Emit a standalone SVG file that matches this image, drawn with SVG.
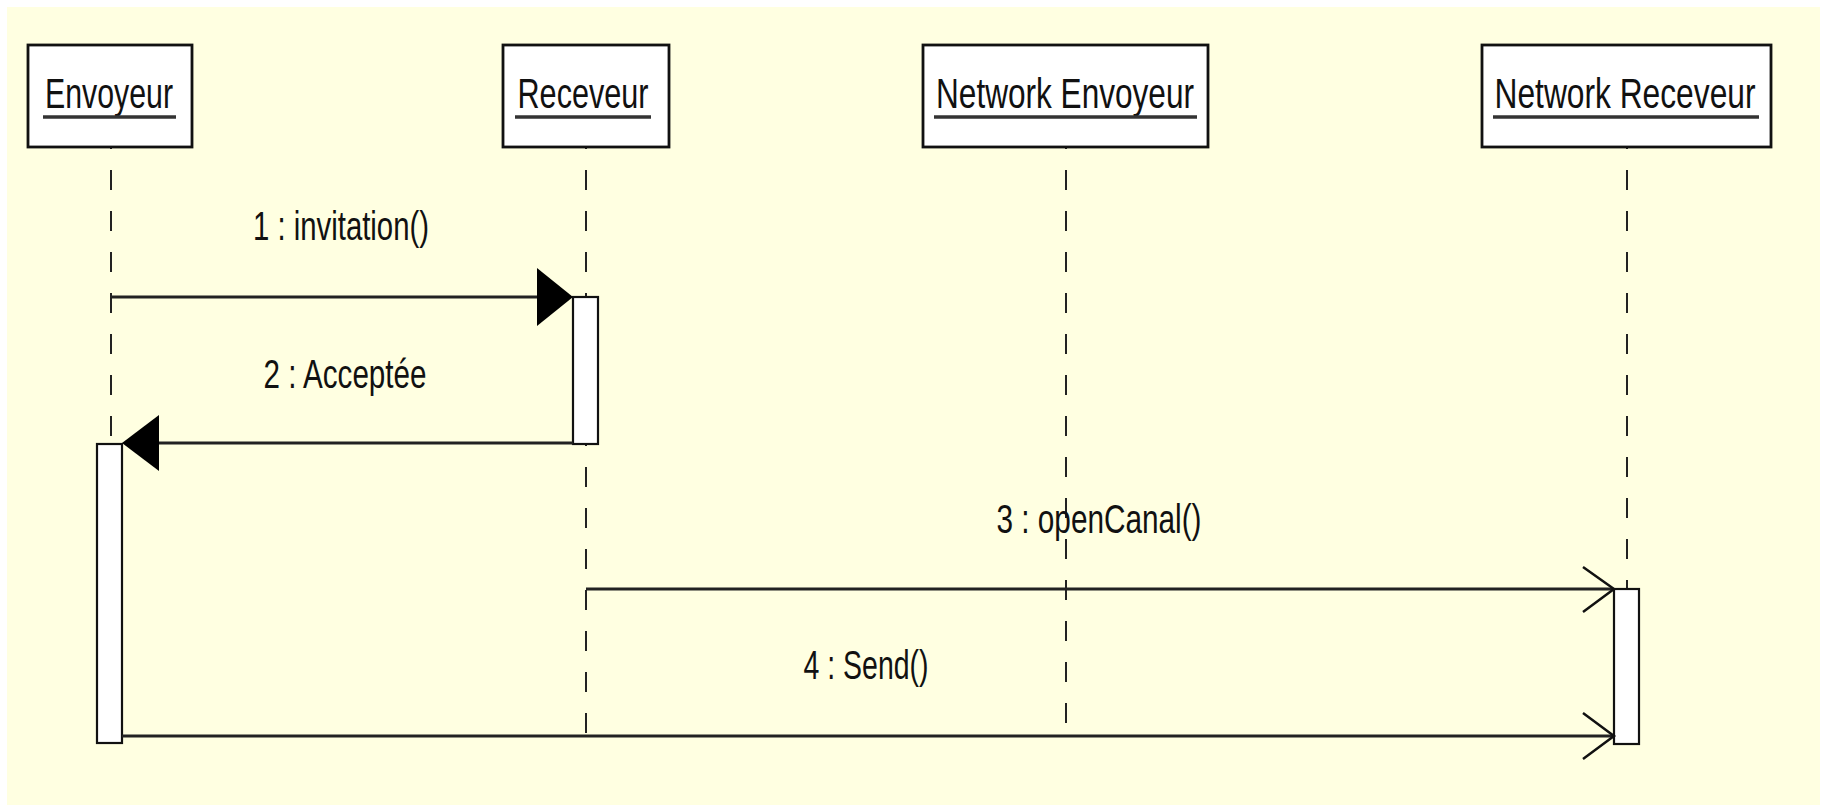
<svg xmlns="http://www.w3.org/2000/svg" width="1826" height="808" viewBox="0 0 1826 808">
<defs>
<style>
.bg{fill:#FFFFE1}
.box{fill:#FFFFFF;stroke:#111;stroke-width:2.8}
.act{fill:#FFFFFF;stroke:#111;stroke-width:2.2}
.name{font-family:"Liberation Sans",Arial,sans-serif;font-size:31px;fill:#111;text-anchor:middle}
.ul{stroke:#333;stroke-width:3.5}
.life{stroke:#222;stroke-width:2;stroke-dasharray:20 21;stroke-dashoffset:18;fill:none}
.msg{stroke:#222;stroke-width:3.2;fill:none}
.lbl{font-family:"Liberation Sans",Arial,sans-serif;font-size:29px;fill:#111;text-anchor:middle}
.head{fill:#000}
.open{stroke:#111;stroke-width:2.5;fill:none}
</style>
</defs>
<rect x="0" y="0" width="1826" height="808" fill="#FFFFFF"/>
<rect class="bg" x="7" y="7" width="1813" height="798"/>

<g id="lifelines">
<line class="life" x1="111" y1="147" x2="111" y2="444"/>
<line class="life" x1="586" y1="147" x2="586" y2="297"/>
<line class="life" x1="586" y1="444" x2="586" y2="736"/>
<line class="life" x1="1066" y1="147" x2="1066" y2="736"/>
<line class="life" x1="1627" y1="147" x2="1627" y2="589"/>
</g>

<g id="node-envoyeur">
<rect class="box" x="28" y="45" width="164" height="102"/>
<text class="name" transform="translate(109,108) scale(1,1.4)" x="0" y="0" textLength="128" lengthAdjust="spacingAndGlyphs">Envoyeur</text>
<line class="ul" x1="43" y1="117" x2="176" y2="117"/>
</g>
<g id="node-receveur">
<rect class="box" x="503" y="45" width="166" height="102"/>
<text class="name" transform="translate(583,108) scale(1,1.4)" x="0" y="0" textLength="131" lengthAdjust="spacingAndGlyphs">Receveur</text>
<line class="ul" x1="515" y1="117" x2="651" y2="117"/>
</g>
<g id="node-network-envoyeur">
<rect class="box" x="923" y="45" width="285" height="102"/>
<text class="name" transform="translate(1065,108) scale(1,1.4)" x="0" y="0" textLength="258" lengthAdjust="spacingAndGlyphs">Network Envoyeur</text>
<line class="ul" x1="934" y1="117" x2="1197" y2="117"/>
</g>
<g id="node-network-receveur">
<rect class="box" x="1482" y="45" width="289" height="102"/>
<text class="name" transform="translate(1625,108) scale(1,1.4)" x="0" y="0" textLength="261" lengthAdjust="spacingAndGlyphs">Network Receveur</text>
<line class="ul" x1="1493" y1="117" x2="1759" y2="117"/>
</g>

<g id="activations">
<rect class="act" x="573" y="297" width="25" height="147"/>
<rect class="act" x="97" y="444" width="25" height="299"/>
<rect class="act" x="1614" y="589" width="25" height="155"/>
</g>

<g id="connectors">
<line class="msg" x1="111" y1="297" x2="540" y2="297"/>
<polygon class="head" points="573,297 537,268 537,326"/>
<line class="msg" x1="573" y1="443" x2="155" y2="443"/>
<polygon class="head" points="122,443 159,415 159,471"/>
<line class="msg" x1="586" y1="589" x2="1613" y2="589"/>
<polyline class="open" points="1583,567 1614,589 1583,612"/>
<line class="msg" x1="122" y1="736" x2="1613" y2="736"/>
<polyline class="open" points="1583,713 1614,736 1583,759"/>
<text class="lbl" transform="translate(341,240) scale(1,1.37)" x="0" y="0" textLength="176" lengthAdjust="spacingAndGlyphs">1 : invitation()</text>
<text class="lbl" transform="translate(345,388) scale(1,1.37)" x="0" y="0" textLength="163" lengthAdjust="spacingAndGlyphs">2 : Acceptée</text>
<text class="lbl" transform="translate(1099,533) scale(1,1.37)" x="0" y="0" textLength="205" lengthAdjust="spacingAndGlyphs">3 : openCanal()</text>
<text class="lbl" transform="translate(866,679) scale(1,1.37)" x="0" y="0" textLength="125" lengthAdjust="spacingAndGlyphs">4 : Send()</text>
</g>
</svg>
